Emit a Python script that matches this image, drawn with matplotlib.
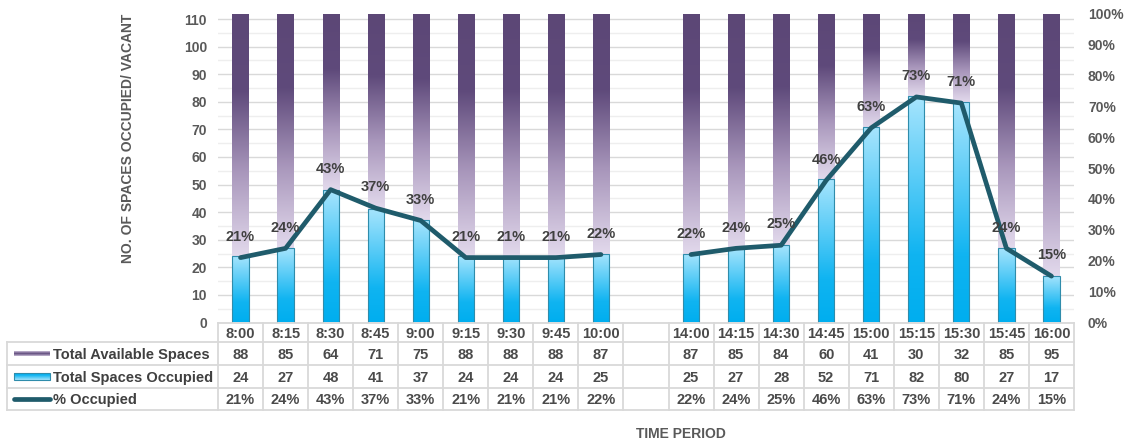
import numpy as np
import matplotlib.pyplot as plt
from matplotlib.colors import LinearSegmentedColormap
from matplotlib.patches import Rectangle

plt.rcParams['font.family'] = ['Liberation Sans', 'DejaVu Sans']
plt.rcParams['font.weight'] = 'bold'

# survey slots (empty slot separates morning and afternoon)
times = ['8:00', '8:15', '8:30', '8:45', '9:00', '9:15', '9:30', '9:45', '10:00', '',
         '14:00', '14:15', '14:30', '14:45', '15:00', '15:15', '15:30', '15:45', '16:00']
available = [88, 85, 64, 71, 75, 88, 88, 88, 87, None,
             87, 85, 84, 60, 41, 30, 32, 85, 95]
occupied = [24, 27, 48, 41, 37, 24, 24, 24, 25, None,
            25, 27, 28, 52, 71, 82, 80, 27, 17]
pct_occupied = [21, 24, 43, 37, 33, 21, 21, 21, 22, None,
                22, 24, 25, 46, 63, 73, 71, 24, 15]

series_names = ['Total Available Spaces', 'Total Spaces Occupied', '% Occupied']

W, H = 1129, 444
LINE_C = '#1f5b6b'
TXT_C = '#4a4a4a'
TICK_C = '#595959'

cm_occ = LinearSegmentedColormap.from_list(
    'occ', [(0, '#00aeef'), (0.3, '#10b4f1'), (1, '#a8e5fd')])
cm_avl = LinearSegmentedColormap.from_list(
    'avl', [(0, '#e2d9ec'), (0.35, '#a896bb'), (0.68, '#5f4a7b'), (1, '#5c4776')])
grad = np.linspace(0, 1, 256).reshape(-1, 1)

fig = plt.figure(figsize=(W / 100, H / 100), dpi=100)
ax = fig.add_axes([218 / W, 1 - 322.5 / H, (1074 - 218) / W, (322.5 - 13.5) / H])

x = np.arange(len(times))
idx = [i for i in x if occupied[i] is not None]
occ = np.array([occupied[i] for i in idx], float)
avl = np.array([available[i] for i in idx], float)

bw = 0.36
bars_occ = ax.bar(idx, occ, width=bw, facecolor='none', edgecolor='#2f8cab',
                  lw=0.8, zorder=3)
bars_avl = ax.bar(idx, avl, bottom=occ, width=bw, facecolor='none',
                  edgecolor='none', zorder=3)

# gradient fills for each bar segment
for bars, cmap in [(bars_occ, cm_occ), (bars_avl, cm_avl)]:
    for r in bars:
        x0, y0 = r.get_xy()
        ax.imshow(grad, extent=(x0, x0 + r.get_width(), y0, y0 + r.get_height()),
                  origin='lower', aspect='auto', cmap=cmap, zorder=2,
                  interpolation='bilinear')

ax.set_xlim(-0.5, len(times) - 0.5)
ax.set_ylim(0, 112)
ax.set_xticks([])
ax.set_yticks(range(0, 111, 10))
ax.set_yticks(range(5, 111, 10), minor=True)
ax.set_axisbelow(True)
ax.grid(axis='y', which='major', color='#d9d9d9', lw=1.0)
ax.grid(axis='y', which='minor', color='#eeeeee', lw=1.0)
ax.tick_params(axis='y', which='both', length=0, pad=8, labelsize=10,
               labelcolor=TICK_C)
for s in ax.spines.values():
    s.set_visible(False)

# percentage line on the secondary axis
ax2 = ax.twinx()
pct = np.array([np.nan if p is None else p for p in pct_occupied], float) / 100
ax2.plot(x, pct, color=LINE_C, lw=3.4, solid_capstyle='round', zorder=4)
for i in idx:
    ax2.annotate(f'{pct_occupied[i]}%', (i, pct_occupied[i] / 100),
                 xytext=(0, 15), textcoords='offset points', ha='center',
                 va='center', fontsize=10.5, color='#404040', zorder=5)
ax2.set_ylim(0, 1)
ax2.set_yticks(np.linspace(0, 1, 11))
ax2.set_yticklabels([f'{int(round(t * 100))}%' for t in np.linspace(0, 1, 11)])
ax2.tick_params(axis='y', length=0, pad=10, labelsize=10, labelcolor=TICK_C)
for s in ax2.spines.values():
    s.set_visible(False)
ax2.set_xlim(ax.get_xlim())

# data table below the plot, drawn in pixel space
tab = fig.add_axes([0, 0, 1, 1])
tab.patch.set_visible(False)
tab.axis('off')

rows_y = [323, 342, 365, 388, 410]
lab_x0 = 7
col_edges = [ax.transData.transform((i - 0.5, 0))[0] for i in range(len(times) + 1)]
grid_c = '#d9d9d9'

for ce in col_edges:
    tab.plot([ce, ce], [rows_y[0], rows_y[-1]], color=grid_c, lw=1.3)
tab.plot([lab_x0, lab_x0], [rows_y[1], rows_y[-1]], color=grid_c, lw=1.3)
tab.plot([col_edges[0], col_edges[-1]], [rows_y[0], rows_y[0]], color=grid_c, lw=1.3)
for ry in rows_y[1:]:
    tab.plot([lab_x0, col_edges[-1]], [ry, ry], color=grid_c, lw=1.3)

row_vals = [
    [str(v) if v is not None else '' for v in available],
    [str(v) if v is not None else '' for v in occupied],
    [f'{v}%' if v is not None else '' for v in pct_occupied],
]
for i, t in enumerate(times):
    cx = (col_edges[i] + col_edges[i + 1]) / 2
    tab.text(cx, (rows_y[0] + rows_y[1]) / 2 + 1, t, ha='center', va='center',
             fontsize=10.5, color=TXT_C)
    for r, vals in enumerate(row_vals):
        cy = (rows_y[r + 1] + rows_y[r + 2]) / 2 + 1
        tab.text(cx, cy, vals[i], ha='center', va='center', fontsize=10.5,
                 color=TXT_C)

# row labels with legend keys
for r, name in enumerate(series_names):
    cy = (rows_y[r + 1] + rows_y[r + 2]) / 2
    tab.text(53, cy + 1, name, ha='left', va='center', fontsize=10.5, color='#404040')
    if r == 0:
        tab.imshow(grad, extent=(14, 50, cy + 2.5, cy - 2.5), origin='upper',
                   aspect='auto', cmap=LinearSegmentedColormap.from_list(
                       'k', ['#cbbfd8', '#5f4a7b', '#cbbfd8']))
    elif r == 1:
        tab.imshow(grad, extent=(14, 50, cy + 3.5, cy - 3.5), origin='upper',
                   aspect='auto', cmap=cm_occ)
        tab.add_patch(Rectangle((14, cy - 3.5), 36, 7, fill=False,
                                ec='#2f8cab', lw=0.8))
    else:
        tab.plot([14, 50], [cy, cy], color=LINE_C, lw=3.4, solid_capstyle='round')

tab.set_xlim(0, W)
tab.set_ylim(H, 0)

fig.text(128 / W, 1 - 138 / H, 'NO. OF SPACES OCCUPIED/ VACANT', rotation=90,
         ha='center', va='center', fontsize=10, color=TICK_C)
fig.text(681 / W, 1 - 434 / H, 'TIME PERIOD', ha='center', va='center',
         fontsize=10, color=TICK_C)

fig.savefig('out.png', dpi=100)
